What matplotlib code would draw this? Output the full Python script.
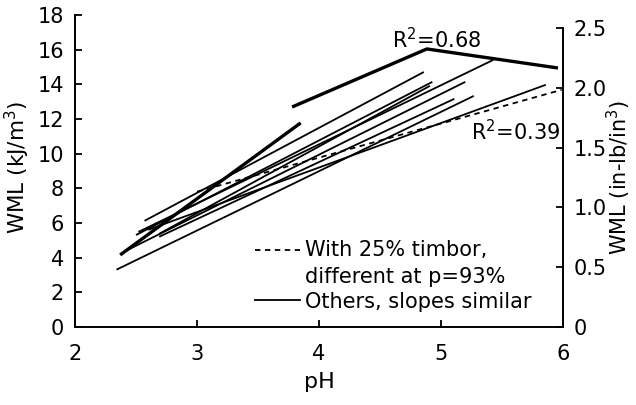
import matplotlib
matplotlib.use("Agg")
import matplotlib.pyplot as plt

plt.rcParams['font.family'] = ['DejaVu Sans']
plt.rcParams['mathtext.fontset'] = 'dejavusans'

# Data
KJ_TO_INLB = 0.145038

# Quadratic-fit line (R^2 = 0.68), drawn as polyline
top_x = [3.78, 4.885, 5.96]
top_y = [12.69, 16.04, 14.94]

# Thick short line
thick_x = [2.37, 3.85]
thick_y = [4.15, 11.77]

# Other regression lines
others_x = [
    [2.52, 5.43],
    [2.57, 4.86],
    [2.50, 4.93],
    [2.69, 4.91],
    [2.42, 5.20],
    [2.69, 5.11],
    [2.34, 5.27],
    [2.60, 5.86],
]
others_y = [
    [5.48, 15.41],
    [6.12, 14.71],
    [5.30, 14.14],
    [5.37, 13.91],
    [4.40, 14.14],
    [5.20, 13.16],
    [3.30, 13.33],
    [5.60, 13.97],
]

# Dashed line: with 25% timbor
timbor_x = [3.0, 5.99]
timbor_y = [7.8, 13.68]

xticks = [2, 3, 4, 5, 6]
yticks = [0, 2, 4, 6, 8, 10, 12, 14, 16, 18]
y2ticks = [0, 0.5, 1.0, 1.5, 2.0, 2.5]
y2labels = ['0', '0.5', '1.0', '1.5', '2.0', '2.5']

fig = plt.figure(figsize=(6.36, 4.05), dpi=100)
ax = fig.add_axes([0.118, 0.193, 0.767, 0.770])

ax.plot(top_x, top_y, color='black', lw=2.4, solid_capstyle='butt')
ax.plot(thick_x, thick_y, color='black', lw=2.4, solid_capstyle='butt')
for xs, ys in zip(others_x, others_y):
    ax.plot(xs, ys, color='black', lw=1.3, solid_capstyle='butt')
ax.plot(timbor_x, timbor_y, color='black', lw=1.3, ls=(0, (3, 2.5)))

ax.set_xlim(2, 6)
ax.set_ylim(0, 18)
ax.set_xticks(xticks)
ax.set_yticks(yticks)
ax.tick_params(axis='y', direction='in', length=5, width=1.3, labelsize=15, pad=8)
ax.tick_params(axis='x', direction='in', length=5, width=1.3, labelsize=15, pad=12)
ax.spines['top'].set_visible(False)
ax.spines['right'].set_visible(False)
for s in ['left', 'bottom']:
    ax.spines[s].set_linewidth(1.4)

ax.set_xlabel('pH', fontsize=16)
ax.xaxis.set_label_coords(0.5, -0.145)
ax.set_ylabel('WML (kJ/m$^3$)', fontsize=15.5)
ax.yaxis.set_label_coords(-0.088, 0.51)

ax2 = ax.twinx()
ax2.set_ylim(0, 18 * KJ_TO_INLB)
ax2.set_yticks(y2ticks)
ax2.set_yticklabels(y2labels)
ax2.spines['top'].set_visible(False)
ax2.spines['left'].set_visible(False)
ax2.spines['bottom'].set_visible(False)
ax2.spines['right'].set_bounds(0, 2.5)
ax2.spines['right'].set_linewidth(1.4)
ax2.tick_params(direction='in', length=5, width=1.3, labelsize=15, pad=8)
ax2.set_ylabel('WML (in-lb/in$^3$)', fontsize=15, rotation=90)
ax2.yaxis.set_label_coords(1.086, 0.48)

ax.text(4.96, 16.56, 'R$^2$=0.68', fontsize=15, ha='center', va='center')
ax.text(5.61, 11.25, 'R$^2$=0.39', fontsize=15, ha='center', va='center')

# Legend drawn manually in data coordinates
ax.plot([3.475, 3.845], [4.44, 4.44], color='black', lw=1.3, ls=(0, (3, 2.5)))
ax.plot([3.475, 3.845], [1.56, 1.56], color='black', lw=1.3)
ax.text(3.885, 4.44, 'With 25% timbor,', fontsize=15, va='center', ha='left')
ax.text(3.885, 2.90, 'different at p=93%', fontsize=15, va='center', ha='left')
ax.text(3.885, 1.44, 'Others, slopes similar', fontsize=15, va='center', ha='left')

fig.savefig('out.png', dpi=100)
